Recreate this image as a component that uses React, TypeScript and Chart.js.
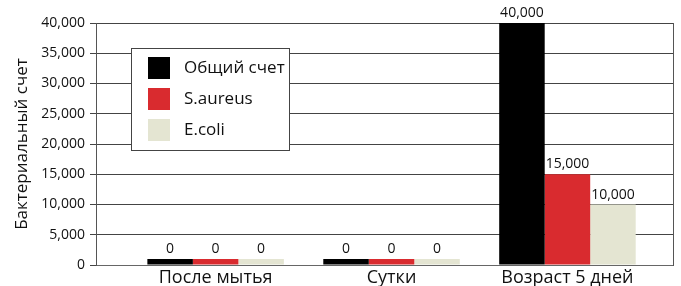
import React, { useEffect, useRef } from "react";
import { Chart, registerables } from "chart.js";

Chart.register(...registerables);

const categories = ["После мытья", "Сутки", "Возраст 5 дней"];
const seriesNames = ["Общий счет", "S.aureus", "E.coli"];
const totalCount = [0, 0, 40000];
const sAureus = [0, 0, 15000];
const eColi = [0, 0, 10000];
const yTicks = [0, 5000, 10000, 15000, 20000, 25000, 30000, 35000, 40000];
const colors = ["#000000", "#d92b2f", "#e4e5d2"];
const yTitle = "Бактериальный счет";

const FONT = "'Open Sans', 'Noto Sans', sans-serif";

const valueLabels = {
  id: "valueLabels",
  afterDatasetsDraw(chart: any) {
    const ctx = chart.ctx;
    ctx.save();
    ctx.font = `14px ${FONT}`;
    ctx.fillStyle = "#111";
    ctx.textAlign = "center";
    ctx.textBaseline = "alphabetic";
    chart.data.datasets.forEach((ds: any, di: number) => {
      const meta = chart.getDatasetMeta(di);
      meta.data.forEach((el: any, i: number) => {
        const v = ds.data[i].y;
        ctx.fillText(v.toLocaleString("en-US"), el.x, el.y - 6);
      });
    });
    ctx.restore();
  },
};

const boxLegend = {
  id: "boxLegend",
  afterDraw(chart: any) {
    const ctx = chart.ctx;
    const a = chart.chartArea;
    const x0 = a.left + 35;
    const y0 = a.top + 25;
    const w = 158;
    const h = 102;
    ctx.save();
    ctx.fillStyle = "#ffffff";
    ctx.fillRect(x0, y0, w, h);
    ctx.strokeStyle = "#444";
    ctx.lineWidth = 1;
    ctx.strokeRect(x0 + 0.5, y0 + 0.5, w, h);
    ctx.font = `17px ${FONT}`;
    ctx.textAlign = "left";
    ctx.textBaseline = "middle";
    chart.data.datasets.forEach((ds: any, i: number) => {
      const sy = y0 + 9 + i * 31;
      ctx.fillStyle = ds.backgroundColor;
      ctx.fillRect(x0 + 17, sy, 22, 22);
      ctx.fillStyle = "#111";
      ctx.fillText(ds.label, x0 + 53, sy + 11);
    });
    ctx.restore();
  },
};

export default function App() {
  const ref = useRef<HTMLCanvasElement>(null);
  useEffect(() => {
    if (!ref.current) return;
    const series = [totalCount, sAureus, eColi];
    const chart = new Chart(ref.current, {
      type: "bar",
      data: {
        datasets: series.map((vals, si) => ({
          label: seriesNames[si],
          data: vals.map((v, i) => ({ x: i, y: v })),
          backgroundColor: colors[si],
          borderWidth: 0,
          minBarLength: 6,
          barPercentage: 1,
          categoryPercentage: 0.776,
        })),
      },
      options: {
        responsive: true,
        maintainAspectRatio: false,
        animation: false,
        layout: { padding: { top: 23, right: 8, left: 0, bottom: 0 } },
        plugins: { legend: { display: false }, tooltip: { enabled: false } },
        scales: {
          x: {
            type: "linear",
            offset: false,
            bounds: "data",
            min: -0.68,
            max: 2.6,
            afterBuildTicks: (s: any) => {
              s.ticks = categories.map((_, i) => ({ value: i }));
            },
            afterFit: (s: any) => {
              s.height = 21;
            },
            grid: { display: false, drawTicks: false, offset: false },
            border: { display: true, color: "#666", width: 1 },
            ticks: {
              autoSkip: false,
              maxRotation: 0,
              padding: 2,
              color: "#111",
              font: { family: FONT, size: 18 },
              callback: (v: any) => categories[v] ?? "",
            },
          },
          y: {
            min: 0,
            max: 40000,
            afterBuildTicks: (s: any) => {
              s.ticks = yTicks.map((v) => ({ value: v }));
            },
            afterFit: (s: any) => {
              s.width = 96;
            },
            grid: { color: "#444", lineWidth: 1, tickLength: 6, drawTicks: true },
            border: { display: true, color: "#555", width: 1 },
            ticks: {
              padding: 5,
              color: "#111",
              font: { family: FONT, size: 14 },
              callback: (v: any) => Number(v).toLocaleString("en-US"),
            },
            title: {
              display: true,
              text: yTitle,
              color: "#111",
              font: { family: FONT, size: 17 },
              padding: { top: 12, bottom: 0 },
            },
          },
          y2: {
            position: "right",
            min: 0,
            max: 40000,
            afterFit: (s: any) => {
              s.width = 0;
            },
            grid: { drawOnChartArea: false, drawTicks: false },
            border: { display: true, color: "#555", width: 1 },
            ticks: { display: false },
          },
        },
      },
      plugins: [valueLabels, boxLegend],
    });
    return () => chart.destroy();
  }, []);
  return (
    <div style={{ position: "fixed", left: 0, top: 0, width: 681, height: 286 }}>
      <canvas ref={ref} />
    </div>
  );
}
